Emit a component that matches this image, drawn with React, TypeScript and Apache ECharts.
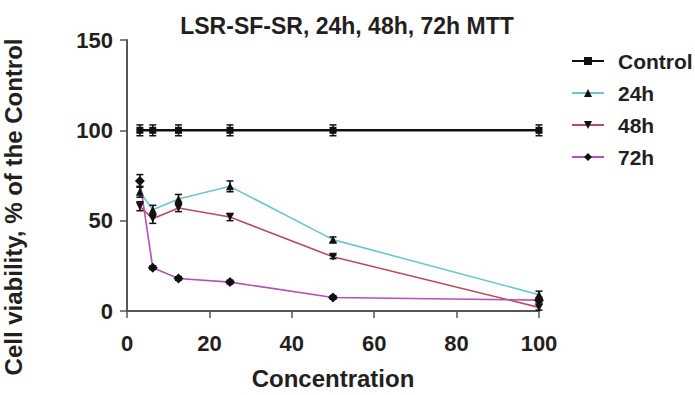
import React, { useEffect, useRef } from "react";
import * as echarts from "echarts";

const concentrations = [3.125, 6.25, 12.5, 25, 50, 100];
const seriesNames = ["Control", "24h", "48h", "72h"];
const controlValues = [100, 100, 100, 100, 100, 100];
const h24Values = [66, 56, 62, 69, 39.5, 9];
const h48Values = [58, 51, 57, 52, 30, 2];
const h72Values = [72, 24, 18, 16, 7.5, 6];
const controlErr = [3, 3, 3, 3, 3, 3];
const h24Err = [3, 2.5, 2.5, 3, 1.5, 2];
const h48Err = [2.5, 2.5, 2, 2, 1, 1.5];
const h72Err = [3.5, 1, 1, 1, 1, 1.5];
const yTicks = [0, 50, 100, 150];
const xTicks = [0, 20, 40, 60, 80, 100];

const lineColors = ["#111111", "#6cc8c4", "#bb4a5c", "#b450bc"];
const symbols = ["rect", "triangle", "path://M0,0 L10,0 L5,10 Z", "diamond"];

export default function App() {
  const ref = useRef<HTMLDivElement>(null);
  useEffect(() => {
    if (!ref.current) return;
    const chart = echarts.init(ref.current, null, { renderer: "svg" });
    const values = [controlValues, h24Values, h48Values, h72Values];
    const errs = [controlErr, h24Err, h48Err, h72Err];
    const font = "'Liberation Sans', Arial, sans-serif";
    const txt = "#231f20";

    const lineSeries = values.map((vals, i) => ({
      name: seriesNames[i],
      type: "line",
      data: concentrations.map((c, j) => [c, vals[j]]),
      symbol: symbols[i],
      symbolSize: i === 0 ? 7 : i === 3 ? 10 : 8,
      showSymbol: true,
      lineStyle: { color: lineColors[i], width: i === 0 ? 2.5 : 1.6 },
      itemStyle: { color: "#111111" },
      z: 3,
    }));

    const errSeries = values.map((vals, i) => ({
      name: seriesNames[i] + " err",
      type: "custom",
      data: concentrations.map((c, j) => [c, vals[j], errs[i][j]]),
      renderItem: (params: any, api: any) => {
        const x = api.value(0);
        const y = api.value(1);
        const e = api.value(2);
        const top = api.coord([x, y + e]);
        const bot = api.coord([x, y - e]);
        const w = 3.5;
        const st = { stroke: "#111111", lineWidth: 1.5 };
        return {
          type: "group",
          children: [
            { type: "line", shape: { x1: top[0], y1: top[1], x2: bot[0], y2: bot[1] }, style: st },
            { type: "line", shape: { x1: top[0] - w, y1: top[1], x2: top[0] + w, y2: top[1] }, style: st },
            { type: "line", shape: { x1: bot[0] - w, y1: bot[1], x2: bot[0] + w, y2: bot[1] }, style: st },
          ],
        };
      },
      z: 4,
      silent: true,
    }));

    chart.setOption({
      animation: false,
      backgroundColor: "#ffffff",
      title: {
        text: "LSR-SF-SR, 24h, 48h, 72h MTT",
        left: 342,
        textAlign: "center",
        top: 9,
        textStyle: { fontFamily: font, fontSize: 23, fontWeight: "bold", color: txt },
      },
      legend: {
        data: seriesNames,
        orient: "vertical",
        left: 566,
        top: 44,
        itemWidth: 32,
        itemHeight: 10,
        itemGap: 8,
        textStyle: { fontFamily: font, fontSize: 21, lineHeight: 24, fontWeight: "bold", color: txt, padding: [0, 0, 0, 9] },
      },
      graphic: [
        {
          type: "text",
          x: 13,
          y: 207,
          rotation: Math.PI / 2,
          style: {
            text: "Cell viability, % of the Control",
            fontFamily: font,
            fontSize: 24,
            fontWeight: "bold",
            fill: txt,
            align: "center",
            verticalAlign: "middle",
          },
        },
      ],
      grid: { left: 127, right: 156, top: 40, bottom: 78 },
      xAxis: {
        type: "value",
        min: 0,
        max: 100,
        interval: 20,
        name: "Concentration",
        nameLocation: "middle",
        nameGap: 55,
        nameTextStyle: { fontFamily: font, fontSize: 24, fontWeight: "bold", color: txt },
        axisLine: { show: true, lineStyle: { color: "#555555", width: 2 } },
        axisTick: { show: true, length: 7, lineStyle: { color: "#555555", width: 1.5 } },
        axisLabel: {
          fontFamily: font,
          fontSize: 22,
          fontWeight: "bold",
          color: txt,
          margin: 21,
          formatter: (v: number) => (xTicks.includes(v) ? String(v) : ""),
        },
        splitLine: { show: false },
      },
      yAxis: {
        type: "value",
        min: 0,
        max: 150,
        interval: 50,
        axisLine: { show: true, lineStyle: { color: "#555555", width: 2 } },
        axisTick: { show: true, length: 7, lineStyle: { color: "#555555", width: 1.5 } },
        axisLabel: {
          fontFamily: font,
          fontSize: 22,
          fontWeight: "bold",
          color: txt,
          margin: 14,
          formatter: (v: number) => (yTicks.includes(v) ? String(v) : ""),
        },
        splitLine: { show: false },
      },
      series: [...lineSeries, ...errSeries],
    });
    return () => chart.dispose();
  }, []);
  return <div ref={ref} style={{ width: 695, height: 395, position: "absolute", left: 0, top: 0 }} />;
}
